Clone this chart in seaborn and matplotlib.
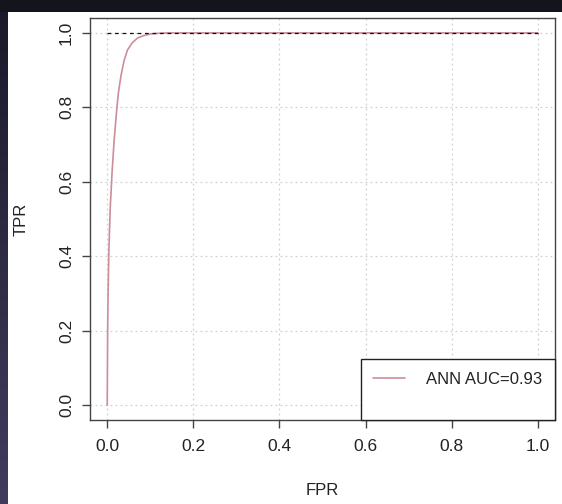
import numpy as np
import pandas as pd
import matplotlib
matplotlib.use("Agg")
import matplotlib.pyplot as plt
import seaborn as sns
from matplotlib.lines import Line2D
from matplotlib.patches import Rectangle
from matplotlib.colors import LinearSegmentedColormap

# ---- data ----
fpr = [0.0, 0.0005, 0.001, 0.002, 0.004, 0.007, 0.011, 0.016, 0.021, 0.026,
       0.032, 0.039, 0.047, 0.058, 0.070, 0.085, 0.100, 0.120, 0.140, 0.200,
       0.400, 0.600, 0.800, 1.000]
tpr = [0.0, 0.10, 0.20, 0.30, 0.42, 0.53, 0.62, 0.71, 0.78, 0.84,
       0.885, 0.925, 0.954, 0.973, 0.986, 0.993, 0.997, 0.999, 1.0, 1.0,
       1.0, 1.0, 1.0, 1.0]
ref_x = [0.0, 1.0]
ref_y = [1.0, 1.0]
legend_label = "ANN AUC=0.93"
ticks = [0.0, 0.2, 0.4, 0.6, 0.8, 1.0]
tick_labels = ["0.0", "0.2", "0.4", "0.6", "0.8", "1.0"]

sns.set_style("white")
plt.rcParams['font.family'] = ['Liberation Sans', 'DejaVu Sans']

W, H = 562, 504
fig = plt.figure(figsize=(W / 100, H / 100), dpi=100)
fig.patch.set_facecolor('#14141d')

# white page area
bg = fig.add_axes([8 / W, 0, 1 - 8 / W, 1 - 12 / H], zorder=-5)
bg.set_axis_off()
bg.add_patch(Rectangle((0, 0), 1, 1, transform=bg.transAxes, facecolor='white', edgecolor='none'))
# left gradient strip
gax = fig.add_axes([0, 0, 8 / W, 1 - 12 / H], zorder=-5)
grad = np.linspace(0, 1, 256).reshape(-1, 1)
cmap = LinearSegmentedColormap.from_list('g', ['#1b1a2a', '#413c5e'])
gax.imshow(grad, aspect='auto', cmap=cmap, origin='upper')
gax.set_axis_off()

ax = fig.add_axes([90 / W, (H - 420) / H, (555 - 90) / W, (420 - 18) / H], zorder=1)
ax.set_facecolor('white')

df = pd.DataFrame({"FPR": fpr, "TPR": tpr})
sns.lineplot(data=df, x="FPR", y="TPR", ax=ax, color='#cc8e9a', linewidth=1.2,
             zorder=3, estimator=None, sort=False)
ax.plot(ref_x, ref_y, color='#111111', linestyle=(0, (3, 3)), linewidth=0.9, zorder=4)

ax.set_xlim(-0.04, 1.04)
ax.set_ylim(-0.04, 1.04)
ax.set_xticks(ticks)
ax.set_xticklabels(tick_labels)
ax.set_yticks(ticks)
ax.set_yticklabels(tick_labels, rotation=90, va='center')
ax.grid(True, color='#d0d0d0', linestyle=(0, (1.5, 2.5)), linewidth=0.9)
ax.set_axisbelow(True)
for s in ax.spines.values():
    s.set_color('#444444')
    s.set_linewidth(1.0)
ax.tick_params(axis='both', direction='out', length=5.5, width=1.0, color='#444444',
               labelsize=12.5, labelcolor='#222222', pad=6, bottom=True, left=True)
ax.tick_params(axis='x', pad=8)
ax.set_xlabel("FPR", fontsize=12, color='#222222', labelpad=21)
ax.set_ylabel("TPR", fontsize=12, color='#222222', labelpad=22)

h1 = Line2D([], [], color='#cc8e9a', linewidth=1.2)
h2 = Line2D([], [], alpha=0)
leg = ax.legend([h1, h2], [legend_label, ' '], loc='lower right', borderaxespad=0,
                fancybox=False, frameon=True, edgecolor='#222222', framealpha=1,
                fontsize=12, handlelength=1.9, handletextpad=1.3, borderpad=0.75,
                labelspacing=0.35)
leg.get_frame().set_linewidth(1.0)
for t in leg.get_texts():
    t.set_color('#222222')

fig.savefig("out.png", dpi=100, facecolor=fig.get_facecolor())
